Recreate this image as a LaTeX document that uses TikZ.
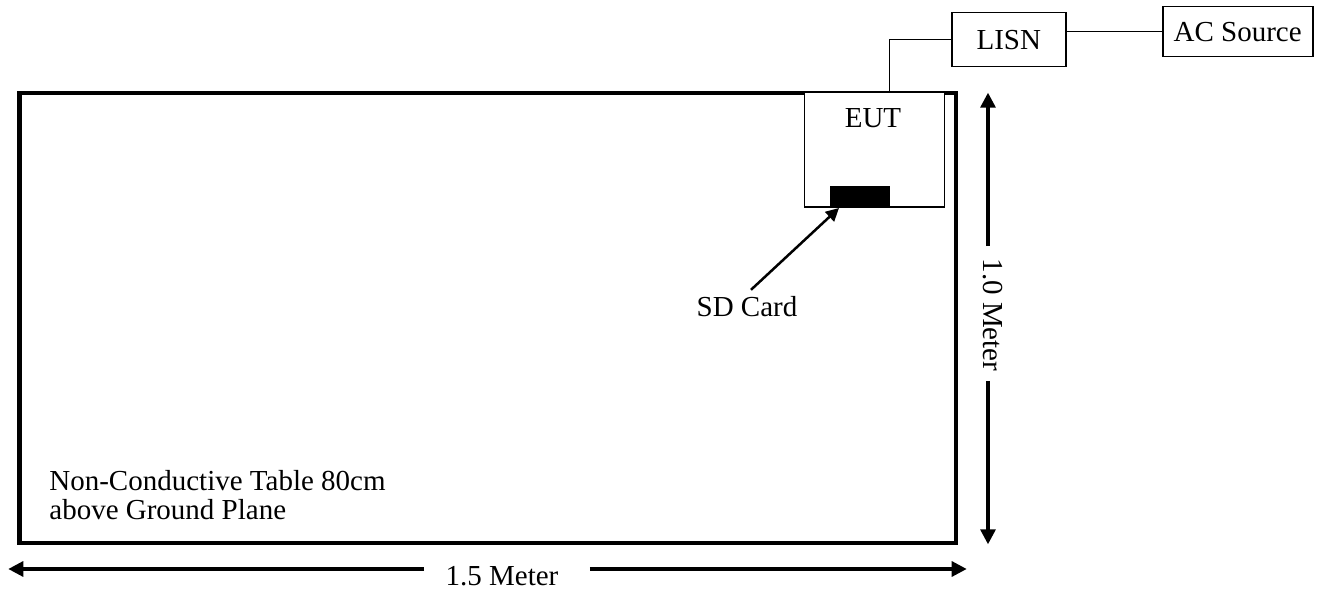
\documentclass[tikz,border=0pt]{standalone}
\usepackage{fontspec}
\setmainfont{Liberation Serif}
\usetikzlibrary{arrows.meta}

\begin{document}
\begin{tikzpicture}[x=0.5pt, y=-0.5pt,
    font=\fontsize{14.5}{14.35}\selectfont,
    >={Triangle[length=7.5pt, width=7.5pt]},
    caja/.style={draw, line width=0.8pt, inner sep=0pt},
    cable/.style={line width=0.6pt},
    cota/.style={line width=1.6pt}]
    \useasboundingbox (0,0) rectangle (1330,593);

    % Mesa
    \draw[line width=2.15pt] (19.5,93) rectangle (956,543);
    \node[anchor=north west, align=left, inner sep=0pt] (mesa) at (49,470) {Non-Conductive Table 80cm\\above Ground Plane};

    % EUT y tarjeta SD
    \node[caja, fill=white, line width=0.7pt, minimum width=70pt, minimum height=57.5pt, anchor=north west] (eut) at (804,91.3) {};
    \node[anchor=base] (eutlabel) at (873,128) {EUT};
    \node[fill=black, inner sep=0pt, minimum width=30pt, minimum height=10pt, anchor=south west] (sd) at (830,206) {};

    % LISN y fuente
    \node[caja, minimum width=57pt, minimum height=27pt] (lisn) at (1008.8,39.7) {LISN};
    \node[caja, minimum width=75pt, minimum height=25pt] (ac) at (1237.7,31.7) {AC Source};

    % Cables
    \draw[cable] ([xshift=7.35pt]eut.north) |- (lisn.west);
    \draw[cable] (ac.west -| lisn.east) -- (ac.west);

    % Flecha a la tarjeta
    \node[anchor=base] (sdlabel) at (747,317) {SD Card};
    \draw[line width=1.25pt, -{Triangle[length=6.5pt, width=6.5pt]}] ([xshift=2pt]sdlabel.north) -- ([xshift=4.5pt, yshift=-1pt]sd.south west);

    % Cotas
    \node[rotate=-90, inner sep=0pt] (alto) at (992.5,315) {1.0 Meter};
    \coordinate (altoA) at (988,92.7);
    \coordinate (altoB) at (988,544.3);
    \draw[cota, ->] ([yshift=6pt]alto.west -| altoA) -- (altoA);
    \draw[cota, ->] ([yshift=-4.5pt]alto.east -| altoB) -- (altoB);

    \node[inner sep=0pt] (ancho) at (502,576) {1.5 Meter};
    \coordinate (anchoA) at (8.3,569);
    \coordinate (anchoB) at (966.7,569);
    \draw[cota, ->] ([xshift=-10.5pt]ancho.west |- anchoA) -- (anchoA);
    \draw[cota, ->] ([xshift=15.5pt]ancho.east |- anchoB) -- (anchoB);
\end{tikzpicture}
\end{document}
